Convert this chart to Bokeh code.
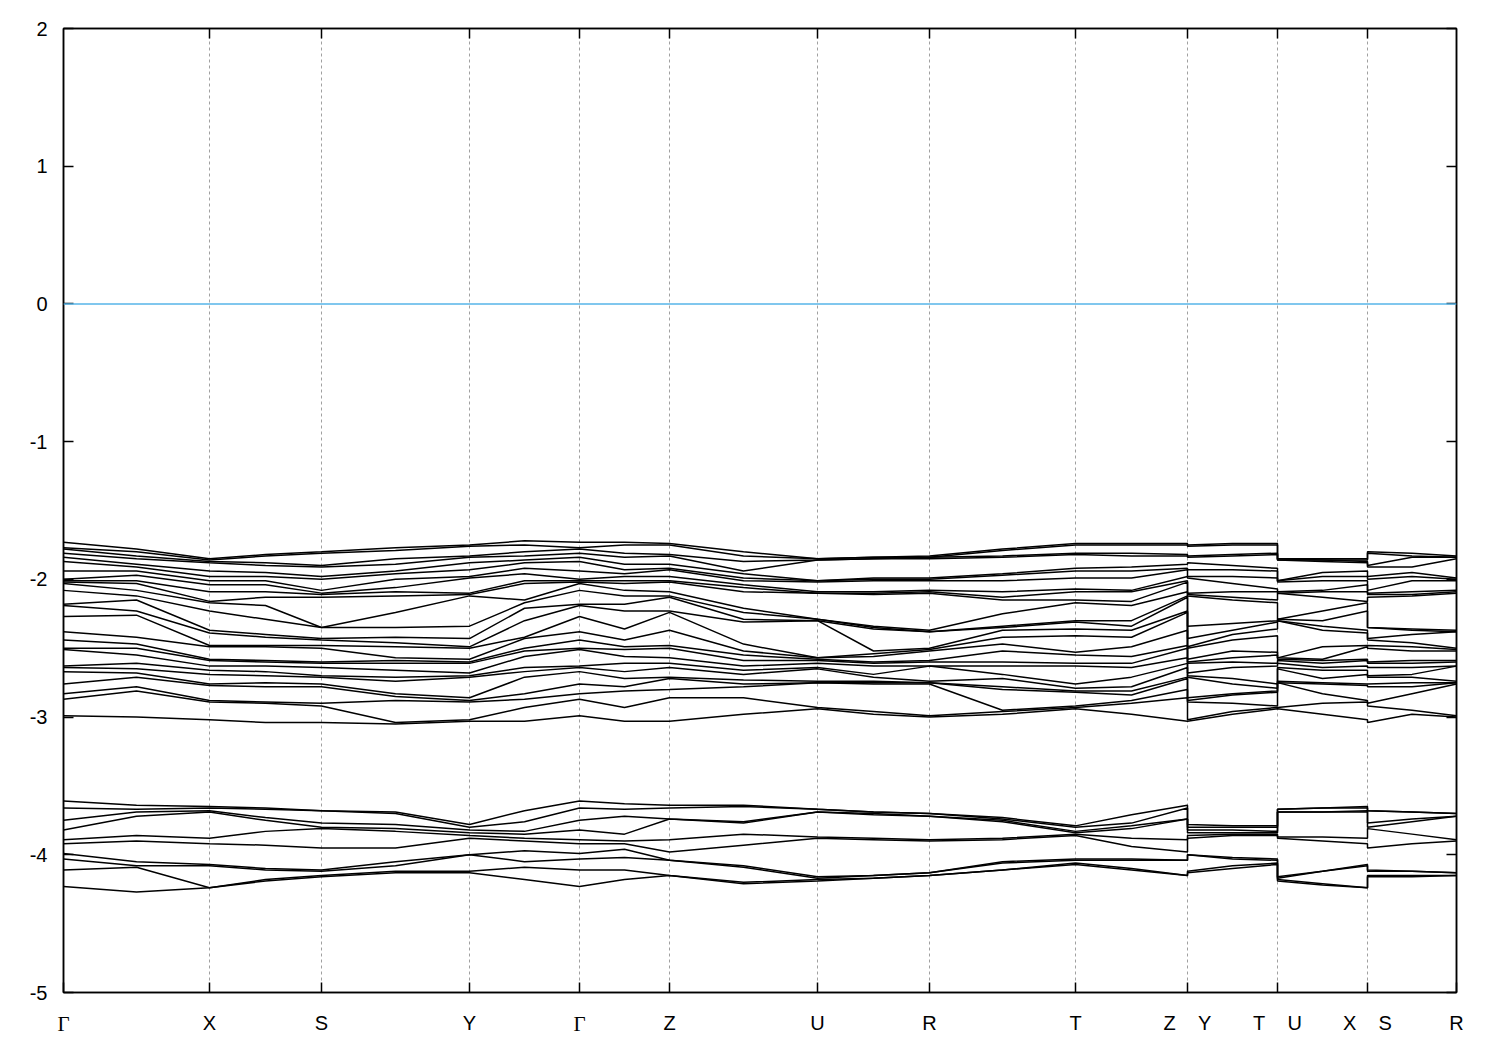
from bokeh.plotting import figure
from bokeh.models import FixedTicker, LinearAxis, Span, ColumnDataSource
from bokeh.embed import file_html
from bokeh.resources import INLINE

NB = "\u00a0"
# k-path positions of the high-symmetry points
k_nodes = [0.0, 0.146, 0.258, 0.406, 0.516, 0.606, 0.754, 0.866, 1.012, 1.124, 1.214, 1.304, 1.393]
node_labels = ["Γ", "X", "S", "Y", "Γ", "Z", "U", "R", "T",
               "Z" + NB * 4 + "Y", "T" + NB * 4 + "U", "X" + NB * 4 + "S", "R"]
path = [("G", "X"), ("X", "S"), ("S", "Y"), ("Y", "G"), ("G", "Z"), ("Z", "U"),
        ("U", "R"), ("R", "T"), ("T", "Z"), ("Y", "T"), ("U", "X"), ("S", "R")]
y_ticks = [-5, -4, -3, -2, -1, 0, 1, 2]

# ---- upper band group (eV), energies at high-symmetry points ----
up_G = [-1.73, -1.77, -1.78, -1.81, -1.84, -1.87, -1.94, -2.00, -2.01, -2.02, -2.03, -2.08, -2.18, -2.19, -2.27, -2.38, -2.44, -2.50, -2.51, -2.63, -2.64, -2.67, -2.76, -2.83, -2.87, -2.99]
up_X = [-1.85, -1.86, -1.87, -1.88, -1.94, -1.98, -2.01, -2.04, -2.09, -2.16, -2.17, -2.23, -2.37, -2.39, -2.48, -2.49, -2.58, -2.59, -2.63, -2.66, -2.69, -2.76, -2.77, -2.88, -2.89, -3.02]
up_S = [-1.80, -1.81, -1.90, -1.91, -1.98, -2.00, -2.08, -2.10, -2.11, -2.13, -2.35, -2.35, -2.43, -2.44, -2.48, -2.50, -2.60, -2.61, -2.64, -2.70, -2.71, -2.76, -2.78, -2.90, -2.92, -3.04]
up_Y = [-1.75, -1.76, -1.83, -1.84, -1.88, -1.93, -1.98, -1.99, -2.10, -2.11, -2.12, -2.34, -2.43, -2.49, -2.50, -2.58, -2.60, -2.61, -2.68, -2.70, -2.71, -2.86, -2.88, -2.89, -3.02, -3.03]
up_Z = [-1.74, -1.75, -1.82, -1.83, -1.89, -1.92, -1.93, -1.98, -2.01, -2.02, -2.09, -2.12, -2.13, -2.23, -2.24, -2.37, -2.48, -2.50, -2.57, -2.61, -2.64, -2.71, -2.72, -2.80, -2.86, -3.03]
up_U = [-1.85, -1.85, -1.86, -1.86, -2.01, -2.01, -2.02, -2.09, -2.10, -2.10, -2.29, -2.29, -2.30, -2.30, -2.57, -2.57, -2.58, -2.59, -2.61, -2.64, -2.65, -2.74, -2.75, -2.75, -2.93, -2.94]
up_R = [-1.83, -1.84, -1.84, -1.85, -1.99, -2.00, -2.01, -2.08, -2.09, -2.10, -2.37, -2.38, -2.38, -2.50, -2.51, -2.52, -2.59, -2.60, -2.63, -2.63, -2.74, -2.75, -2.75, -2.76, -2.99, -3.00]
up_T = [-1.74, -1.75, -1.81, -1.82, -1.92, -1.94, -1.99, -2.07, -2.09, -2.15, -2.17, -2.30, -2.31, -2.36, -2.41, -2.53, -2.55, -2.61, -2.63, -2.76, -2.79, -2.81, -2.82, -2.92, -2.93, -2.94]

# upper group, energies at segment midpoints
up_GX = [-1.78, -1.80, -1.83, -1.85, -1.89, -1.91, -1.94, -1.97, -2.01, -2.03, -2.08, -2.12, -2.15, -2.23, -2.26, -2.42, -2.47, -2.50, -2.55, -2.61, -2.65, -2.68, -2.71, -2.78, -2.81, -3.00]
up_XS = [-1.82, -1.83, -1.88, -1.90, -1.95, -1.98, -2.01, -2.04, -2.09, -2.13, -2.19, -2.29, -2.40, -2.42, -2.48, -2.49, -2.59, -2.60, -2.63, -2.67, -2.70, -2.75, -2.78, -2.89, -2.90, -3.04]
up_SY = [-1.77, -1.79, -1.85, -1.89, -1.94, -1.96, -2.00, -2.06, -2.09, -2.12, -2.24, -2.35, -2.42, -2.46, -2.49, -2.57, -2.59, -2.61, -2.66, -2.71, -2.74, -2.83, -2.85, -2.88, -3.04, -3.05]
up_YG = [-1.72, -1.75, -1.80, -1.83, -1.86, -1.88, -1.92, -1.96, -2.01, -2.03, -2.15, -2.17, -2.21, -2.30, -2.42, -2.43, -2.50, -2.52, -2.56, -2.64, -2.67, -2.71, -2.83, -2.87, -2.93, -3.03]
up_GZ = [-1.73, -1.75, -1.81, -1.84, -1.89, -1.93, -1.96, -1.98, -2.01, -2.03, -2.08, -2.12, -2.18, -2.23, -2.36, -2.44, -2.49, -2.51, -2.56, -2.61, -2.67, -2.72, -2.78, -2.81, -2.93, -3.03]
up_ZU = [-1.80, -1.83, -1.87, -1.94, -1.96, -1.99, -2.01, -2.04, -2.06, -2.09, -2.21, -2.24, -2.29, -2.31, -2.47, -2.52, -2.55, -2.59, -2.63, -2.66, -2.69, -2.73, -2.76, -2.78, -2.86, -2.98]
up_UR = [-1.84, -1.84, -1.85, -1.85, -1.99, -2.00, -2.01, -2.09, -2.10, -2.11, -2.34, -2.35, -2.36, -2.52, -2.54, -2.56, -2.60, -2.61, -2.63, -2.69, -2.71, -2.74, -2.75, -2.76, -2.96, -2.98]
up_RT = [-1.78, -1.79, -1.83, -1.84, -1.96, -1.97, -2.01, -2.09, -2.13, -2.15, -2.25, -2.34, -2.35, -2.37, -2.42, -2.47, -2.52, -2.60, -2.63, -2.69, -2.72, -2.78, -2.80, -2.95, -2.96, -2.98]
up_TZ = [-1.74, -1.75, -1.81, -1.83, -1.91, -1.94, -1.99, -2.08, -2.09, -2.16, -2.19, -2.30, -2.34, -2.37, -2.42, -2.49, -2.56, -2.61, -2.64, -2.71, -2.78, -2.81, -2.84, -2.88, -2.90, -2.98]
up_YT = [-1.74, -1.75, -1.82, -1.83, -1.90, -1.93, -1.98, -2.03, -2.09, -2.13, -2.15, -2.32, -2.37, -2.40, -2.44, -2.52, -2.57, -2.60, -2.64, -2.72, -2.76, -2.83, -2.84, -2.90, -2.96, -2.98]
up_UX = [-1.85, -1.86, -1.86, -1.87, -1.95, -1.98, -2.01, -2.08, -2.09, -2.13, -2.23, -2.30, -2.34, -2.37, -2.49, -2.58, -2.59, -2.61, -2.64, -2.66, -2.72, -2.75, -2.76, -2.83, -2.90, -2.98]
up_SR = [-1.81, -1.83, -1.84, -1.91, -1.95, -1.98, -2.01, -2.09, -2.11, -2.12, -2.36, -2.37, -2.40, -2.46, -2.49, -2.52, -2.59, -2.61, -2.64, -2.69, -2.71, -2.75, -2.78, -2.83, -2.95, -2.98]

# ---- lower band group (eV), energies at high-symmetry points ----
lo_G = [-3.61, -3.66, -3.75, -3.82, -3.89, -3.92, -3.99, -4.03, -4.11, -4.23]
lo_X = [-3.65, -3.66, -3.68, -3.69, -3.88, -3.92, -4.07, -4.08, -4.24, -4.24]
lo_S = [-3.68, -3.68, -3.77, -3.80, -3.81, -3.95, -4.11, -4.12, -4.15, -4.16]
lo_Y = [-3.78, -3.80, -3.82, -3.84, -3.86, -3.88, -4.00, -4.00, -4.12, -4.13]
lo_Z = [-3.64, -3.66, -3.74, -3.74, -3.89, -3.98, -4.04, -4.04, -4.15, -4.15]
lo_U = [-3.67, -3.67, -3.69, -3.69, -3.87, -3.88, -4.16, -4.17, -4.18, -4.19]
lo_R = [-3.70, -3.70, -3.72, -3.72, -3.89, -3.90, -4.13, -4.13, -4.15, -4.15]
lo_T = [-3.79, -3.80, -3.83, -3.84, -3.85, -3.86, -4.03, -4.04, -4.06, -4.07]

# lower group, energies at segment midpoints
lo_GX = [-3.64, -3.67, -3.69, -3.72, -3.86, -3.90, -4.05, -4.08, -4.09, -4.27]
lo_XS = [-3.66, -3.67, -3.73, -3.75, -3.83, -3.93, -4.10, -4.11, -4.18, -4.19]
lo_SY = [-3.69, -3.70, -3.78, -3.81, -3.83, -3.95, -4.05, -4.08, -4.12, -4.13]
lo_YG = [-3.68, -3.76, -3.83, -3.85, -3.88, -3.90, -3.97, -4.05, -4.09, -4.18]
lo_GZ = [-3.63, -3.67, -3.72, -3.85, -3.90, -3.92, -3.96, -4.02, -4.11, -4.18]
lo_ZU = [-3.64, -3.65, -3.76, -3.77, -3.85, -3.93, -4.08, -4.09, -4.20, -4.21]
lo_UR = [-3.69, -3.69, -3.70, -3.71, -3.88, -3.89, -4.15, -4.15, -4.17, -4.17]
lo_RT = [-3.73, -3.74, -3.75, -3.76, -3.88, -3.89, -4.05, -4.06, -4.11, -4.11]
lo_TZ = [-3.71, -3.77, -3.79, -3.81, -3.88, -3.94, -4.03, -4.04, -4.10, -4.11]
lo_YT = [-3.79, -3.80, -3.82, -3.84, -3.85, -3.86, -4.02, -4.03, -4.08, -4.10]
lo_UX = [-3.66, -3.66, -3.69, -3.69, -3.87, -3.90, -4.12, -4.12, -4.21, -4.22]
lo_SR = [-3.69, -3.69, -3.74, -3.76, -3.85, -3.92, -4.12, -4.12, -4.15, -4.16]

groups = [
    ({"G": up_G, "X": up_X, "S": up_S, "Y": up_Y, "Z": up_Z, "U": up_U, "R": up_R, "T": up_T},
     {"GX": up_GX, "XS": up_XS, "SY": up_SY, "YG": up_YG, "GZ": up_GZ, "ZU": up_ZU,
      "UR": up_UR, "RT": up_RT, "TZ": up_TZ, "YT": up_YT, "UX": up_UX, "SR": up_SR}),
    ({"G": lo_G, "X": lo_X, "S": lo_S, "Y": lo_Y, "Z": lo_Z, "U": lo_U, "R": lo_R, "T": lo_T},
     {"GX": lo_GX, "XS": lo_XS, "SY": lo_SY, "YG": lo_YG, "GZ": lo_GZ, "ZU": lo_ZU,
      "UR": lo_UR, "RT": lo_RT, "TZ": lo_TZ, "YT": lo_YT, "UX": lo_UX, "SR": lo_SR}),
]

xs, ys = [], []
for pts, mids in groups:
    for i in range(len(pts["G"])):
        bx, by = [], []
        for s, (a, b) in enumerate(path):
            x0, x1 = k_nodes[s], k_nodes[s + 1]
            bx += [x0, (x0 + x1) / 2, x1]
            by += [pts[a][i], mids[a + b][i], pts[b][i]]
        xs.append(bx)
        ys.append(by)

src = ColumnDataSource(data=dict(xs=xs, ys=ys))

FONT = "Liberation Sans"
FSIZE = "20px"
p = figure(width=1490, height=1040, x_range=(k_nodes[0], k_nodes[-1]), y_range=(-5, 2),
           output_backend="svg", toolbar_location=None,
           min_border_left=63, min_border_right=34, min_border_top=28, min_border_bottom=48)
p.background_fill_color = "white"
p.border_fill_color = "white"
p.outline_line_color = "black"
p.outline_line_width = 1.5

# vertical dashed grid at internal high-symmetry points
p.xgrid.ticker = FixedTicker(ticks=k_nodes[1:-1])
p.xgrid.grid_line_color = "#a0a0a0"
p.xgrid.grid_line_dash = "3 3"
p.xgrid.grid_line_width = 1
p.ygrid.visible = False

# Fermi level
p.add_layout(Span(location=0, dimension="width", line_color="#56b4e9", line_width=1.5))

p.multi_line(xs="xs", ys="ys", source=src, line_color="black", line_width=1.5)

# bottom axis: all ticks, sans-serif point labels
xa = p.xaxis[0]
xa.ticker = FixedTicker(ticks=k_nodes)
xa.major_label_overrides = {k: ("" if lab == "Γ" else lab) for k, lab in zip(k_nodes, node_labels)}
xa.major_tick_in = 10
xa.major_tick_out = 0
xa.minor_tick_line_color = None
xa.axis_line_width = 1.5
xa.major_tick_line_width = 1.5
xa.major_label_text_font = FONT
xa.major_label_text_font_size = FSIZE
xa.major_label_text_color = "black"
xa.major_label_standoff = 19

# second bottom axis carrying only the Γ labels in a serif face
g_ticks = [k for k, lab in zip(k_nodes, node_labels) if lab == "Γ"]
gax = LinearAxis(ticker=FixedTicker(ticks=g_ticks),
                 major_label_overrides={k: "Γ" for k in g_ticks},
                 major_label_text_font="Liberation Serif", major_label_text_font_size="21px",
                 major_label_text_color="black", major_label_standoff=-31,
                 axis_line_color=None, major_tick_line_color=None, minor_tick_line_color=None)
p.add_layout(gax, "below")

# left axis
ya = p.yaxis[0]
ya.ticker = FixedTicker(ticks=y_ticks)
ya.major_label_overrides = {t: str(t) for t in y_ticks}
ya.major_tick_in = 10
ya.major_tick_out = 0
ya.minor_tick_line_color = None
ya.axis_line_width = 1.5
ya.major_tick_line_width = 1.5
ya.major_label_text_font = FONT
ya.major_label_text_font_size = FSIZE
ya.major_label_text_color = "black"
ya.major_label_standoff = 16

# mirrored top / right axes with inward ticks, labels not drawn
top = LinearAxis(ticker=FixedTicker(ticks=k_nodes[1:-1]), major_tick_in=10, major_tick_out=0,
                 minor_tick_line_color=None, major_label_text_color=None,
                 axis_line_width=1.5, major_tick_line_width=1.5, major_label_standoff=0)
p.add_layout(top, "above")
right = LinearAxis(ticker=FixedTicker(ticks=y_ticks), major_tick_in=10, major_tick_out=0,
                   minor_tick_line_color=None, major_label_text_color=None,
                   axis_line_width=1.5, major_tick_line_width=1.5, major_label_standoff=0)
p.add_layout(right, "right")

open("out.html", "w").write(file_html(p, INLINE))
